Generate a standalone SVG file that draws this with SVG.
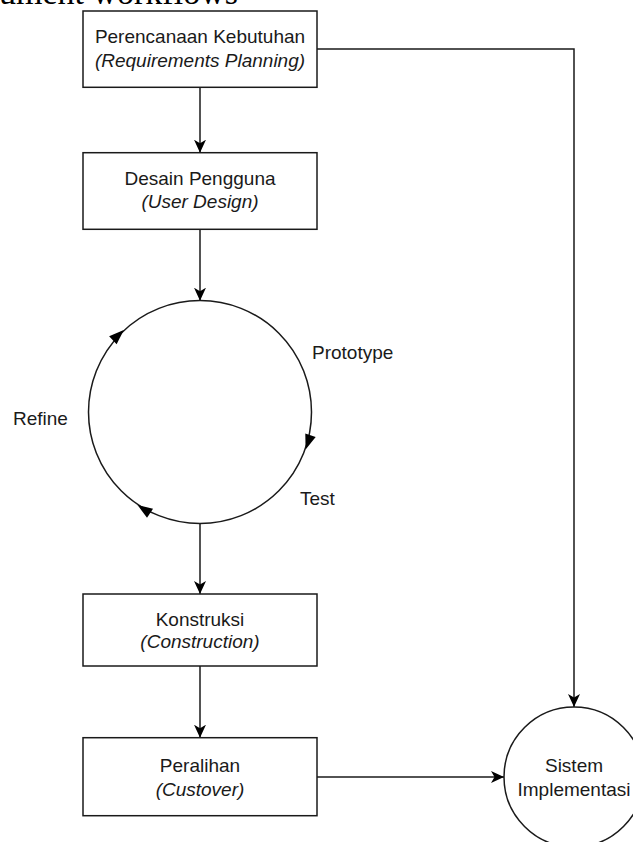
<svg xmlns="http://www.w3.org/2000/svg" width="633" height="842" viewBox="0 0 633 842">
  <style>
    .box { fill: #ffffff; stroke: #1a1a1a; stroke-width: 1.5; }
    .circ { fill: #ffffff; stroke: #1a1a1a; stroke-width: 1.5; }
    .t { font-family: "Liberation Sans", Arial, sans-serif; font-size: 19px; fill: #1a1a1a; text-anchor: middle; }
    .ti { font-style: italic; }
    .lbl { font-family: "Liberation Sans", Arial, sans-serif; font-size: 19px; fill: #1a1a1a; }
    .edge { fill: none; stroke: #1a1a1a; stroke-width: 1.5; marker-end: url(#arr); }
    .head { fill: #000000; }
  </style>
  <defs>
    <marker id="arr" viewBox="0 0 13 12" refX="13" refY="6" markerWidth="13" markerHeight="12" markerUnits="userSpaceOnUse" orient="auto">
      <path d="M0,0 L13,6 L0,12 L3.5,6 Z" fill="#000000"/>
    </marker>
    <polygon id="tri" points="0,0 -15,-5.5 -15,5.5"/>
  </defs>
  <rect width="633" height="842" fill="#ffffff"/>
  <text x="-1" y="4" font-family="'Liberation Serif', 'Times New Roman', serif" font-size="34" fill="#000000">ument workflows</text>

  <g id="connectors">
    <path class="edge" d="M200,87.3 V152.7"/>
    <path class="edge" d="M200,229.3 V300.7"/>
    <path class="edge" d="M200,523.3 V594"/>
    <path class="edge" d="M200,666 V737.7"/>
    <path class="edge" d="M316.7,777 H504"/>
    <path class="edge" d="M316.7,49 H574 V707"/>
  </g>

  <g id="requirements-planning">
    <rect class="box" x="83" y="11" width="234" height="76.3"/>
    <text class="t" x="200" y="43">Perencanaan Kebutuhan</text>
    <text class="t ti" x="200" y="67">(Requirements Planning)</text>
  </g>

  <g id="user-design">
    <rect class="box" x="83" y="152.7" width="234" height="76.6"/>
    <text class="t" x="200" y="185">Desain Pengguna</text>
    <text class="t ti" x="200" y="208">(User Design)</text>
  </g>

  <g id="cycle">
    <circle class="circ" cx="200" cy="412" r="111.5"/>
    <use href="#tri" class="head" transform="translate(123.8,330) rotate(-43.3)"/>
    <use href="#tri" class="head" transform="translate(305.6,449.5) rotate(109)"/>
    <use href="#tri" class="head" transform="translate(137.5,505) rotate(213.3)"/>
  </g>

  <g id="label-prototype">
    <text class="lbl" x="312" y="359">Prototype</text>
  </g>
  <g id="label-test">
    <text class="lbl" x="300" y="505">Test</text>
  </g>
  <g id="label-refine">
    <text class="lbl" x="13" y="425">Refine</text>
  </g>

  <g id="construction">
    <rect class="box" x="83" y="594" width="234" height="72"/>
    <text class="t" x="200" y="626">Konstruksi</text>
    <text class="t ti" x="200" y="648">(Construction)</text>
  </g>

  <g id="cutover">
    <rect class="box" x="83" y="737.7" width="234" height="78"/>
    <text class="t" x="200" y="772">Peralihan</text>
    <text class="t ti" x="200" y="796">(Custover)</text>
  </g>

  <g id="sistem-implementasi">
    <circle class="circ" cx="574" cy="777" r="70"/>
    <text class="t" x="574" y="772">Sistem</text>
    <text class="t" x="574" y="796">Implementasi</text>
  </g>
</svg>
